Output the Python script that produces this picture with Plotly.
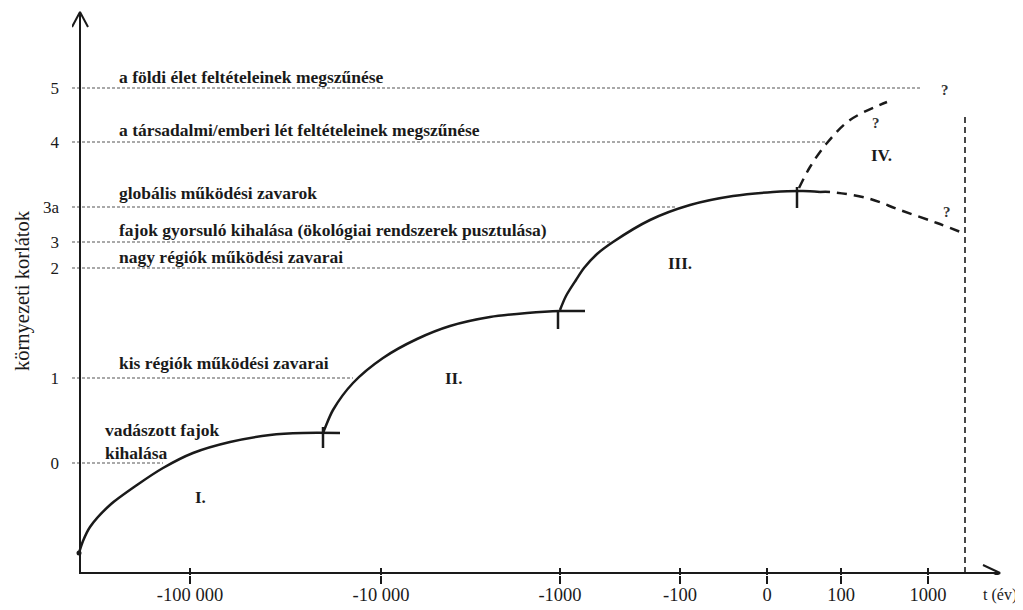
import plotly.graph_objects as go

# ---- schematic axis scales (diagram units) ----
time_tick_labels = ["-100 000", "-10 000", "-1000", "-100", "0", "100", "1000"]
time_tick_pos = [111, 302, 481, 601, 688, 762, 849]

level_labels = ["0", "1", "2", "3", "3a", "4", "5"]
level_values = [110, 195, 305, 331, 366, 431, 485]
level_line_end = [84, 274, 501, 533, 598, 749, 841]

# ---- texts of the environmental limits ----
limit_texts = [
    "a földi élet feltételeinek megszűnése",
    "a társadalmi/emberi lét feltételeinek megszűnése",
    "globális működési zavarok",
    "fajok gyorsuló kihalása (ökológiai rendszerek pusztulása)",
    "nagy régiók működési zavarai",
    "kis régiók működési zavarai",
    "vadászott fajok",
    "kihalása",
]
limit_text_x = [38, 38, 38, 38, 38, 38, 24, 24]
limit_text_y = [496, 443, 380, 343, 316, 210, 143, 120]

phase_labels = ["I.", "II.", "III.", "IV."]
phase_x = [121, 374, 601, 802]
phase_y = [76, 195, 310, 418]

question_x = [797, 866, 868]
question_y = [450, 483, 361]

# ---- phase curves ----
curve1_x = [0, 4, 11, 31, 58, 84, 114, 151, 191, 224, 261]
curve1_y = [20, 32, 46, 68, 88, 105, 120, 131, 138, 140, 140]
curve2_x = [244, 246, 254, 274, 304, 338, 371, 411, 448, 481, 506]
curve2_y = [140, 145, 163, 190, 215, 234, 247, 256, 260, 262, 262]
curve3_x = [481, 487, 497, 505, 518, 534, 571, 611, 654, 694, 724, 741]
curve3_y = [263, 277, 293, 305, 319, 331, 353, 368, 377, 381, 382, 381]
future_down_x = [741, 751, 788, 821, 858, 884]
future_down_y = [381, 381, 375, 363, 350, 340]
future_up_x = [720, 731, 748, 771, 808]
future_up_y = [385, 406, 430, 453, 471]

boundary_x = [244, 479, 718]
boundary_low = [125, 244, 365]
boundary_high = [146, 263, 386]

horizon_x = 886
horizon_top = 460

X_END = 921
Y_END = 561
X_RANGE = [-7, 925]
Y_RANGE = [-2, 563]

SERIF = "Liberation Serif, Times New Roman, serif"
INK = "#1a1a1a"


def to_paper_x(v):
    return (v - X_RANGE[0]) / (X_RANGE[1] - X_RANGE[0])


def to_paper_y(v):
    return (v - Y_RANGE[0]) / (Y_RANGE[1] - Y_RANGE[0])


fig = go.Figure()

# dotted limit lines
for yv, xe in zip(level_values, level_line_end):
    fig.add_trace(go.Scatter(x=[-7, xe], y=[yv, yv], mode="lines",
                             line=dict(color="#555", width=1.2, dash="3px,2px"),
                             hoverinfo="skip", showlegend=False))

# axes lines with open arrowheads
fig.add_trace(go.Scatter(x=[0, X_END], y=[0, 0], mode="lines",
                         line=dict(color=INK, width=2), hoverinfo="skip", showlegend=False))
fig.add_trace(go.Scatter(x=[X_END - 17, X_END, X_END - 17], y=[8, 0, -8], mode="lines",
                         line=dict(color=INK, width=2), hoverinfo="skip", showlegend=False))
fig.add_trace(go.Scatter(x=[1, 1], y=[0, Y_END], mode="lines",
                         line=dict(color=INK, width=2), hoverinfo="skip", showlegend=False))
fig.add_trace(go.Scatter(x=[-7, 1, 9], y=[Y_END - 15, Y_END, Y_END - 15], mode="lines",
                         line=dict(color=INK, width=2), hoverinfo="skip", showlegend=False))

# phase curves
for cx, cy in [(curve1_x, curve1_y), (curve2_x, curve2_y), (curve3_x, curve3_y)]:
    fig.add_trace(go.Scatter(x=cx, y=cy, mode="lines", line_shape="spline",
                             line=dict(color=INK, width=2.5, smoothing=0.8),
                             hoverinfo="skip", showlegend=False))
fig.add_trace(go.Scatter(x=[curve1_x[0]], y=[curve1_y[0]], mode="markers",
                         marker=dict(color=INK, size=5), hoverinfo="skip", showlegend=False))
for cx, cy in [(future_down_x, future_down_y), (future_up_x, future_up_y)]:
    fig.add_trace(go.Scatter(x=cx, y=cy, mode="lines", line_shape="spline",
                             line=dict(color=INK, width=2.5, dash="10px,7px"),
                             hoverinfo="skip", showlegend=False))

# phase boundary marks
for bx, lo, hi in zip(boundary_x, boundary_low, boundary_high):
    fig.add_trace(go.Scatter(x=[bx, bx], y=[lo, hi], mode="lines",
                             line=dict(color=INK, width=2.5),
                             hoverinfo="skip", showlegend=False))

# horizon (vertical dashed)
fig.add_trace(go.Scatter(x=[horizon_x, horizon_x], y=[0, horizon_top], mode="lines",
                         line=dict(color=INK, width=1.6, dash="6px,4px"),
                         hoverinfo="skip", showlegend=False))

# dummy trace for inner tick marks axis
fig.add_trace(go.Scatter(x=[None], y=[None], xaxis="x2", showlegend=False, hoverinfo="skip"))

annotations = []
for t, xv, yv in zip(limit_texts, limit_text_x, limit_text_y):
    annotations.append(dict(x=xv, y=yv, xref="x", yref="y", text="<b>" + t + "</b>",
                            showarrow=False, xanchor="left", yanchor="middle",
                            font=dict(family=SERIF, size=17.5, color=INK)))
for t, xv, yv in zip(phase_labels, phase_x, phase_y):
    annotations.append(dict(x=xv, y=yv, xref="x", yref="y", text="<b>" + t + "</b>",
                            showarrow=False, xanchor="center", yanchor="middle",
                            font=dict(family=SERIF, size=17, color=INK)))
for xv, yv in zip(question_x, question_y):
    annotations.append(dict(x=xv, y=yv, xref="x", yref="y", text="<b>?</b>", showarrow=False,
                            xanchor="center", yanchor="middle",
                            font=dict(family=SERIF, size=15, color="#333")))
# axis titles (outside the data range -> paper coordinates)
annotations.append(dict(x=to_paper_x(940), y=to_paper_y(-22), xref="paper", yref="paper",
                        text="t (év)", showarrow=False, xanchor="right", yanchor="middle",
                        font=dict(family=SERIF, size=16, color=INK)))
annotations.append(dict(x=to_paper_x(-57), y=to_paper_y(282), xref="paper", yref="paper",
                        text="környezeti korlátok", showarrow=False, textangle=-90,
                        xanchor="center", yanchor="middle",
                        font=dict(family=SERIF, size=20.5, color=INK)))

# figure is placed 8px inside the page (body margin), so it is drawn 8px smaller
fig.update_layout(
    width=1015, height=602,
    margin=dict(l=64, r=19, t=2, b=35),
    plot_bgcolor="white", paper_bgcolor="white",
    showlegend=False,
    annotations=annotations,
    xaxis=dict(range=X_RANGE, showgrid=False, zeroline=False, showline=False,
               automargin=False,
               tickmode="array", tickvals=time_tick_pos, ticktext=time_tick_labels,
               ticks="outside", ticklen=8, tickwidth=2, tickcolor=INK,
               ticklabelstandoff=-5,
               tickfont=dict(family=SERIF, size=18.5, color=INK)),
    xaxis2=dict(overlaying="x", matches="x", side="bottom", anchor="y",
                showgrid=False, zeroline=False, showline=False, automargin=False,
                tickmode="array", tickvals=time_tick_pos, showticklabels=False,
                ticks="inside", ticklen=7, tickwidth=2, tickcolor=INK),
    yaxis=dict(range=Y_RANGE, showgrid=False, zeroline=False, showline=False,
               automargin=False,
               tickmode="array", tickvals=level_values, ticktext=level_labels,
               ticks="", ticklabelstandoff=12,
               tickfont=dict(family=SERIF, size=17, color=INK)),
)

fig.write_html("out.html")
